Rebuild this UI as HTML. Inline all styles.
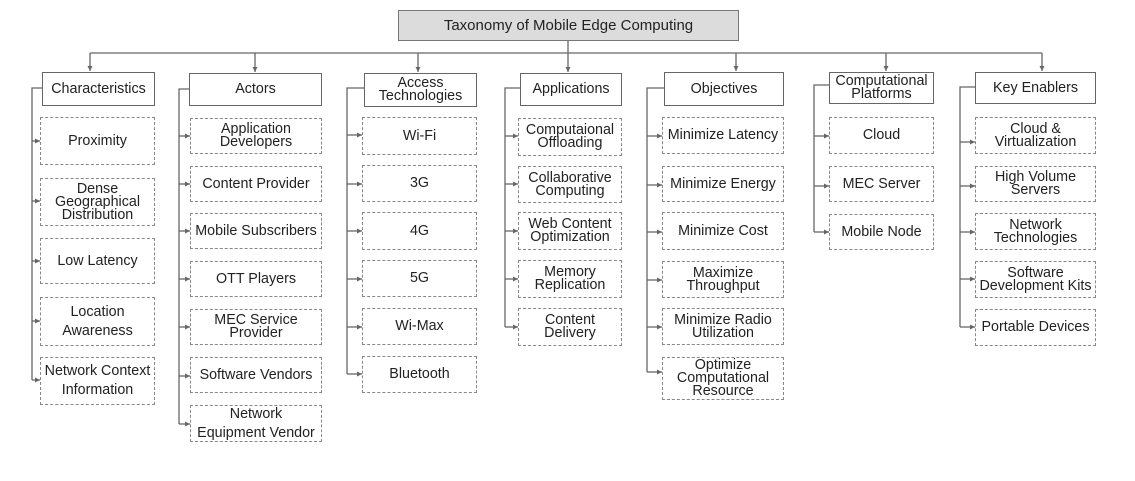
<!DOCTYPE html>
<html><head><meta charset="utf-8"><style>
html,body{margin:0;padding:0;background:#fff;}
body{width:1135px;height:481px;position:relative;overflow:hidden;font-family:"Liberation Sans",sans-serif;color:#222;}
.b{position:absolute;box-sizing:border-box;display:flex;align-items:center;justify-content:center;text-align:center;font-size:14.3px;line-height:13px;white-space:nowrap;}
.h{border:1.3px solid #666;background:#fff;}
.d{border:1.5px dashed #888;}
svg{position:absolute;left:0;top:0;}
</style></head><body>
<svg width="1135" height="481">
<defs><marker id="a" markerWidth="6" markerHeight="6" refX="5" refY="3" orient="auto" markerUnits="userSpaceOnUse"><path d="M0,0.5 L5,3 L0,5.5z" fill="#666"/></marker></defs>
<g stroke="#666" stroke-width="1.3" fill="none">
<line x1="568" y1="41" x2="568" y2="53"/>
<line x1="90" y1="53" x2="1042" y2="53"/>
<line x1="90" y1="53" x2="90" y2="71" marker-end="url(#a)"/>
<line x1="255" y1="53" x2="255" y2="72" marker-end="url(#a)"/>
<line x1="418" y1="53" x2="418" y2="72" marker-end="url(#a)"/>
<line x1="568" y1="53" x2="568" y2="72" marker-end="url(#a)"/>
<line x1="736" y1="53" x2="736" y2="71" marker-end="url(#a)"/>
<line x1="886" y1="53" x2="886" y2="71" marker-end="url(#a)"/>
<line x1="1042" y1="53" x2="1042" y2="71" marker-end="url(#a)"/>
<polyline points="42,88 32,88 32,380"/>
<polyline points="189,89 179,89 179,424"/>
<polyline points="364,88 347,88 347,374"/>
<polyline points="520,88 505,88 505,327"/>
<polyline points="664,88 647,88 647,372"/>
<polyline points="829,85 814,85 814,232"/>
<polyline points="975,87 960,87 960,327"/>
</g>
<g stroke="#666" stroke-width="1.3">
<line x1="32" y1="141" x2="40" y2="141" marker-end="url(#a)"/>
<line x1="32" y1="201" x2="40" y2="201" marker-end="url(#a)"/>
<line x1="32" y1="261" x2="40" y2="261" marker-end="url(#a)"/>
<line x1="32" y1="321" x2="40" y2="321" marker-end="url(#a)"/>
<line x1="32" y1="380" x2="40" y2="380" marker-end="url(#a)"/>
<line x1="179" y1="136" x2="190" y2="136" marker-end="url(#a)"/>
<line x1="179" y1="184" x2="190" y2="184" marker-end="url(#a)"/>
<line x1="179" y1="231" x2="190" y2="231" marker-end="url(#a)"/>
<line x1="179" y1="279" x2="190" y2="279" marker-end="url(#a)"/>
<line x1="179" y1="327" x2="190" y2="327" marker-end="url(#a)"/>
<line x1="179" y1="376" x2="190" y2="376" marker-end="url(#a)"/>
<line x1="179" y1="424" x2="190" y2="424" marker-end="url(#a)"/>
<line x1="347" y1="135" x2="362" y2="135" marker-end="url(#a)"/>
<line x1="347" y1="184" x2="362" y2="184" marker-end="url(#a)"/>
<line x1="347" y1="231" x2="362" y2="231" marker-end="url(#a)"/>
<line x1="347" y1="279" x2="362" y2="279" marker-end="url(#a)"/>
<line x1="347" y1="327" x2="362" y2="327" marker-end="url(#a)"/>
<line x1="347" y1="374" x2="362" y2="374" marker-end="url(#a)"/>
<line x1="505" y1="136" x2="518" y2="136" marker-end="url(#a)"/>
<line x1="505" y1="184" x2="518" y2="184" marker-end="url(#a)"/>
<line x1="505" y1="231" x2="518" y2="231" marker-end="url(#a)"/>
<line x1="505" y1="279" x2="518" y2="279" marker-end="url(#a)"/>
<line x1="505" y1="327" x2="518" y2="327" marker-end="url(#a)"/>
<line x1="647" y1="136" x2="662" y2="136" marker-end="url(#a)"/>
<line x1="647" y1="185" x2="662" y2="185" marker-end="url(#a)"/>
<line x1="647" y1="232" x2="662" y2="232" marker-end="url(#a)"/>
<line x1="647" y1="280" x2="662" y2="280" marker-end="url(#a)"/>
<line x1="647" y1="327" x2="662" y2="327" marker-end="url(#a)"/>
<line x1="647" y1="372" x2="662" y2="372" marker-end="url(#a)"/>
<line x1="814" y1="136" x2="829" y2="136" marker-end="url(#a)"/>
<line x1="814" y1="186" x2="829" y2="186" marker-end="url(#a)"/>
<line x1="814" y1="232" x2="829" y2="232" marker-end="url(#a)"/>
<line x1="960" y1="142" x2="975" y2="142" marker-end="url(#a)"/>
<line x1="960" y1="186" x2="975" y2="186" marker-end="url(#a)"/>
<line x1="960" y1="232" x2="975" y2="232" marker-end="url(#a)"/>
<line x1="960" y1="279" x2="975" y2="279" marker-end="url(#a)"/>
<line x1="960" y1="327" x2="975" y2="327" marker-end="url(#a)"/>
</g>
</svg>

<div class="b" style="left:398px;top:10px;width:341px;height:31px;border:1.3px solid #777;background:#dcdcdc;font-size:15px;">Taxonomy of Mobile Edge Computing</div>

<div class="b h" style="left:42px;top:72px;width:113px;height:34px;">Characteristics</div>
<div class="b h" style="left:189px;top:73px;width:133px;height:33px;">Actors</div>
<div class="b h" style="left:364px;top:73px;width:113px;height:34px;">Access<br>Technologies</div>
<div class="b h" style="left:520px;top:73px;width:102px;height:33px;">Applications</div>
<div class="b h" style="left:664px;top:72px;width:120px;height:34px;">Objectives</div>
<div class="b h" style="left:829px;top:72px;width:105px;height:32px;">Computational<br>Platforms</div>
<div class="b h" style="left:975px;top:72px;width:121px;height:32px;">Key Enablers</div>

<div class="b d" style="left:40px;top:117px;width:115px;height:48px;">Proximity</div>
<div class="b d" style="left:40px;top:178px;width:115px;height:48px;">Dense<br>Geographical<br>Distribution</div>
<div class="b d" style="left:40px;top:238px;width:115px;height:46px;">Low Latency</div>
<div class="b d" style="left:40px;top:297px;width:115px;height:49px;line-height:19px;">Location<br>Awareness</div>
<div class="b d" style="left:40px;top:357px;width:115px;height:48px;line-height:19px;">Network Context<br>Information</div>

<div class="b d" style="left:190px;top:118px;width:132px;height:36px;">Application<br>Developers</div>
<div class="b d" style="left:190px;top:166px;width:132px;height:36px;">Content Provider</div>
<div class="b d" style="left:190px;top:213px;width:132px;height:36px;">Mobile Subscribers</div>
<div class="b d" style="left:190px;top:261px;width:132px;height:36px;">OTT Players</div>
<div class="b d" style="left:190px;top:309px;width:132px;height:36px;">MEC Service<br>Provider</div>
<div class="b d" style="left:190px;top:357px;width:132px;height:36px;">Software Vendors</div>
<div class="b d" style="left:190px;top:405px;width:132px;height:37px;line-height:19px;">Network<br>Equipment Vendor</div>

<div class="b d" style="left:362px;top:117px;width:115px;height:38px;">Wi-Fi</div>
<div class="b d" style="left:362px;top:165px;width:115px;height:37px;">3G</div>
<div class="b d" style="left:362px;top:212px;width:115px;height:38px;">4G</div>
<div class="b d" style="left:362px;top:260px;width:115px;height:37px;">5G</div>
<div class="b d" style="left:362px;top:308px;width:115px;height:37px;">Wi-Max</div>
<div class="b d" style="left:362px;top:356px;width:115px;height:37px;">Bluetooth</div>

<div class="b d" style="left:518px;top:118px;width:104px;height:38px;">Computaional<br>Offloading</div>
<div class="b d" style="left:518px;top:166px;width:104px;height:37px;">Collaborative<br>Computing</div>
<div class="b d" style="left:518px;top:212px;width:104px;height:38px;">Web Content<br>Optimization</div>
<div class="b d" style="left:518px;top:260px;width:104px;height:38px;">Memory<br>Replication</div>
<div class="b d" style="left:518px;top:308px;width:104px;height:38px;">Content<br>Delivery</div>

<div class="b d" style="left:662px;top:117px;width:122px;height:37px;">Minimize Latency</div>
<div class="b d" style="left:662px;top:166px;width:122px;height:36px;">Minimize Energy</div>
<div class="b d" style="left:662px;top:212px;width:122px;height:38px;">Minimize Cost</div>
<div class="b d" style="left:662px;top:261px;width:122px;height:37px;">Maximize<br>Throughput</div>
<div class="b d" style="left:662px;top:308px;width:122px;height:37px;">Minimize Radio<br>Utilization</div>
<div class="b d" style="left:662px;top:357px;width:122px;height:43px;">Optimize<br>Computational<br>Resource</div>

<div class="b d" style="left:829px;top:117px;width:105px;height:37px;">Cloud</div>
<div class="b d" style="left:829px;top:166px;width:105px;height:36px;">MEC Server</div>
<div class="b d" style="left:829px;top:214px;width:105px;height:36px;">Mobile Node</div>

<div class="b d" style="left:975px;top:117px;width:121px;height:37px;">Cloud &amp;<br>Virtualization</div>
<div class="b d" style="left:975px;top:166px;width:121px;height:36px;">High Volume<br>Servers</div>
<div class="b d" style="left:975px;top:213px;width:121px;height:37px;">Network<br>Technologies</div>
<div class="b d" style="left:975px;top:261px;width:121px;height:37px;">Software<br>Development Kits</div>
<div class="b d" style="left:975px;top:309px;width:121px;height:37px;">Portable Devices</div>
</body></html>
